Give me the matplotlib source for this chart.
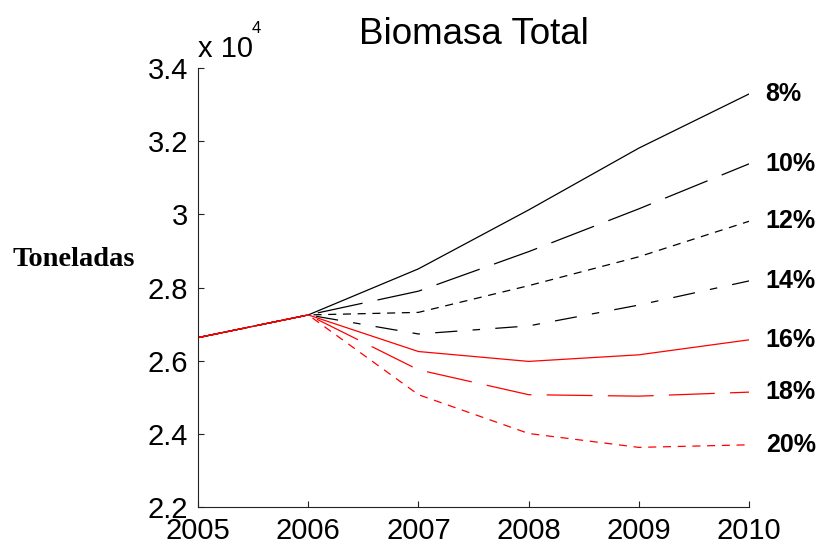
import matplotlib
matplotlib.use("Agg")
import matplotlib.pyplot as plt

# data (units of 10^4 toneladas)
years = [2005, 2006, 2007, 2008, 2009, 2010]
rates = ["8%", "10%", "12%", "14%", "16%", "18%", "20%"]
b08 = [2.663, 2.725, 2.851, 3.012, 3.181, 3.329]
b10 = [2.663, 2.725, 2.790, 2.898, 3.015, 3.138]
b12 = [2.663, 2.725, 2.732, 2.805, 2.884, 2.981]
b14 = [2.663, 2.725, 2.673, 2.695, 2.752, 2.818]
b16 = [2.663, 2.725, 2.625, 2.598, 2.616, 2.657]
b18 = [2.663, 2.725, 2.575, 2.507, 2.503, 2.514]
b20 = [2.663, 2.725, 2.507, 2.401, 2.363, 2.370]
series = [b08, b10, b12, b14, b16, b18, b20]

# MATLAB-ish line styles, dashes in points
solid = (None, None)
long_dash = (33, 11)
short_dash = (5.8, 4.8)
dash_dot = (16, 11, 5.4, 11)
styles = [("black", solid), ("black", long_dash), ("black", short_dash),
          ("black", dash_dot), ("red", solid), ("red", long_dash),
          ("red", short_dash)]

plt.rcParams["font.family"] = ["Liberation Sans", "DejaVu Sans"]
plt.rcParams["lines.scale_dashes"] = False

fig = plt.figure(figsize=(8.17, 5.44), dpi=100)
ax = fig.add_axes([0.2424, 0.068, 0.6744, 0.807])

for vals, (col, dash), lab in zip(series, styles, rates):
    line, = ax.plot(years, vals, color=col, lw=0.9)
    if dash[0] is not None:
        line.set_dashes(dash)
    ax.annotate(lab, xy=(years[-1], vals[-1]), xytext=(12, 0),
                textcoords="offset points", ha="left", va="center",
                fontsize=18, fontweight="bold", annotation_clip=False)

ax.set_xlim(2005, 2010)
ax.set_ylim(2.2, 3.4)
ax.set_xticks(years)
ax.set_yticks([2.2, 2.4, 2.6, 2.8, 3.0, 3.2, 3.4])
ax.set_yticklabels(["2.2", "2.4", "2.6", "2.8", "3", "3.2", "3.4"])

for s in ["top", "right"]:
    ax.spines[s].set_visible(False)
for s in ["left", "bottom"]:
    ax.spines[s].set_linewidth(0.8)
    ax.spines[s].set_color("#222222")
ax.tick_params(direction="in", length=4, width=0.8, labelsize=21,
               color="#222222")
ax.tick_params(axis="x", pad=7.5)
ax.tick_params(axis="y", pad=7)

ax.set_title("Biomasa Total", fontsize=26.5, pad=17)

ax.set_ylabel("Toneladas", rotation=0, fontsize=20.5, fontweight="bold",
              family="Liberation Serif", ha="right", va="baseline")
ax.yaxis.set_label_coords(-0.114, 0.549)

# axis multiplier like MATLAB
ax.text(0.0, 1.026, "x 10", transform=ax.transAxes, fontsize=21,
        ha="left", va="baseline")
ax.text(0.098, 1.079, "4", transform=ax.transAxes, fontsize=12,
        ha="left", va="baseline")

fig.savefig("out.png", dpi=100)
